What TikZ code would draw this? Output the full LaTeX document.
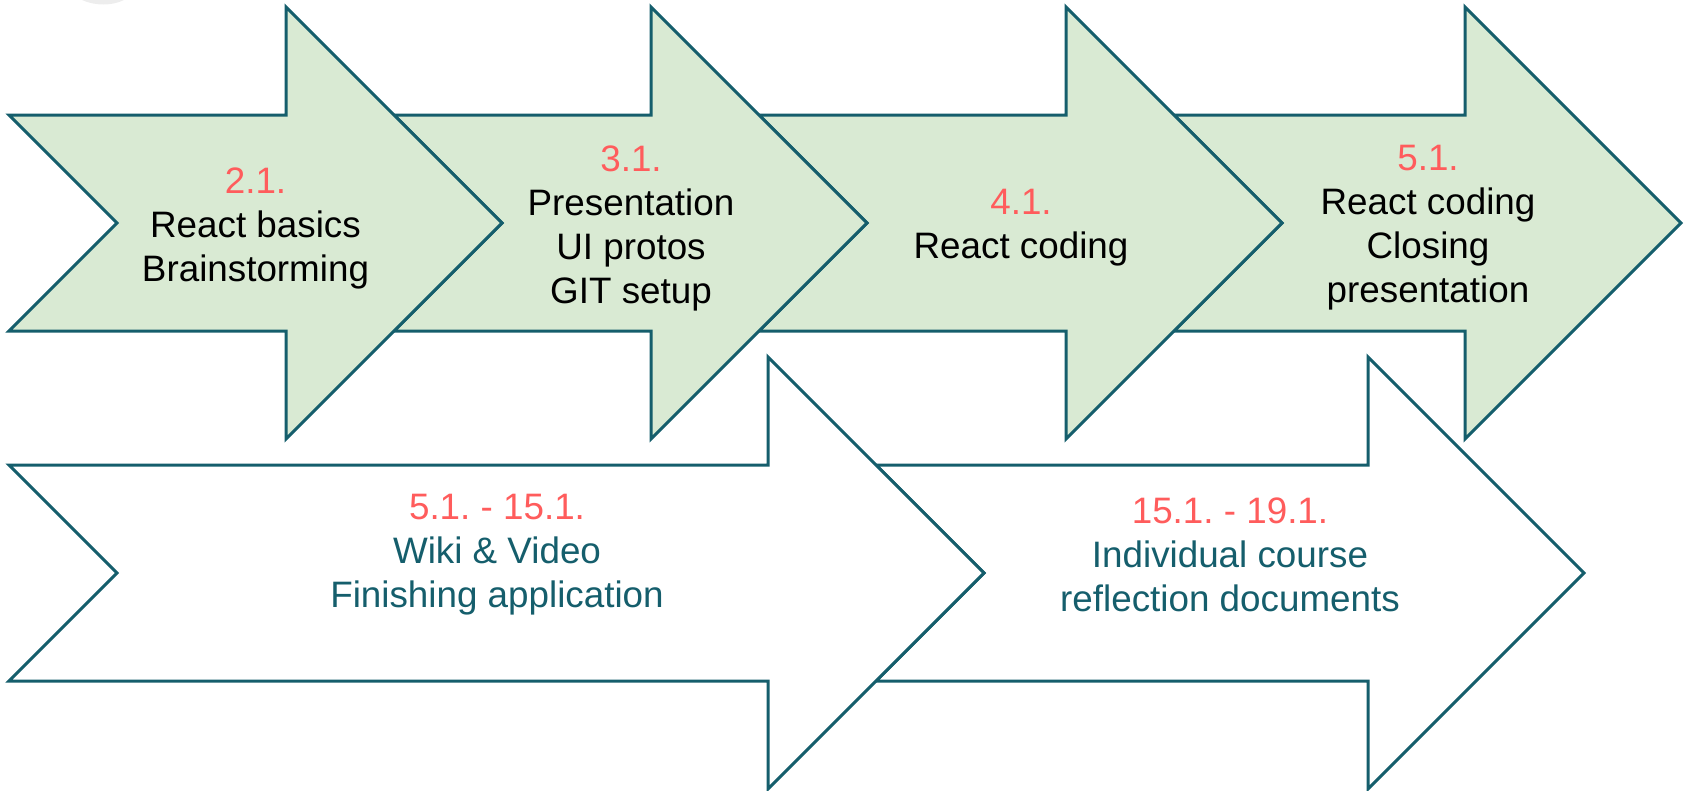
\documentclass[tikz,border=0pt]{standalone}
\usepackage{fontspec}
\setmainfont{Liberation Sans}
\frenchspacing
\definecolor{edge}{HTML}{155E6C}
\definecolor{gfill}{HTML}{D9EAD3}
\definecolor{numred}{HTML}{FF5C5C}
\newcommand\myarrow[4]{% style, tail x, head x, centre y
  \draw[#1] ({#2},{#4-108}) -- ({#3},{#4-108}) -- ({#3},{#4-216}) -- ({#3+216},{#4})
    -- ({#3},{#4+216}) -- ({#3},{#4+108}) -- ({#2},{#4+108}) -- ({#2+108},{#4}) -- cycle;}
\begin{document}
\begin{tikzpicture}[x=1pt,y=-1pt,line join=miter]
\tikzset{
  garrow/.style={draw=edge,fill=gfill,line width=3pt},
  warrow/.style={draw=edge,fill=white,line width=3pt},
  lbl/.style={align=center,font=\fontsize{36.8}{44}\selectfont\frenchspacing,inner sep=0pt},
  num/.style={text=numred}
}
\useasboundingbox (0,0) rectangle (1685,790);
% faint grey mark at top left
\fill[black!7] (82,0) .. controls (95,6) and (112,6) .. (124,0) -- cycle;
% top row (drawn right to left so that each arrow lies on the next one)
\myarrow{garrow}{1174}{1465}{223}
\myarrow{garrow}{759}{1066}{223}
\myarrow{garrow}{394}{651}{223}
\myarrow{garrow}{9}{286}{223}
% bottom row
\myarrow{warrow}{876}{1368}{573}
\myarrow{warrow}{9}{768}{573}
% labels
\node[lbl] (t1) at (255.5,228) {\textcolor{numred}{2.1.}\\React basics\\Brainstorming};
\node[lbl] (t2) at (631,228) {\textcolor{numred}{3.1.}\\Presentation\\UI protos\\GIT setup};
\node[lbl] (t3) at (1021,228) {\textcolor{numred}{4.1.}\\React coding};
\node[lbl] (t4) at (1428,228) {\textcolor{numred}{5.1.}\\React coding\\Closing\\presentation};
\node[lbl,text=edge] (t5) at (497,555) {\textcolor{numred}{5.1. - 15.1.}\\Wiki \& Video\\Finishing application};
\node[lbl,text=edge] (t6) at (1230,555) {\textcolor{numred}{15.1. - 19.1.}\\Individual course\\reflection documents};
\end{tikzpicture}
\end{document}
